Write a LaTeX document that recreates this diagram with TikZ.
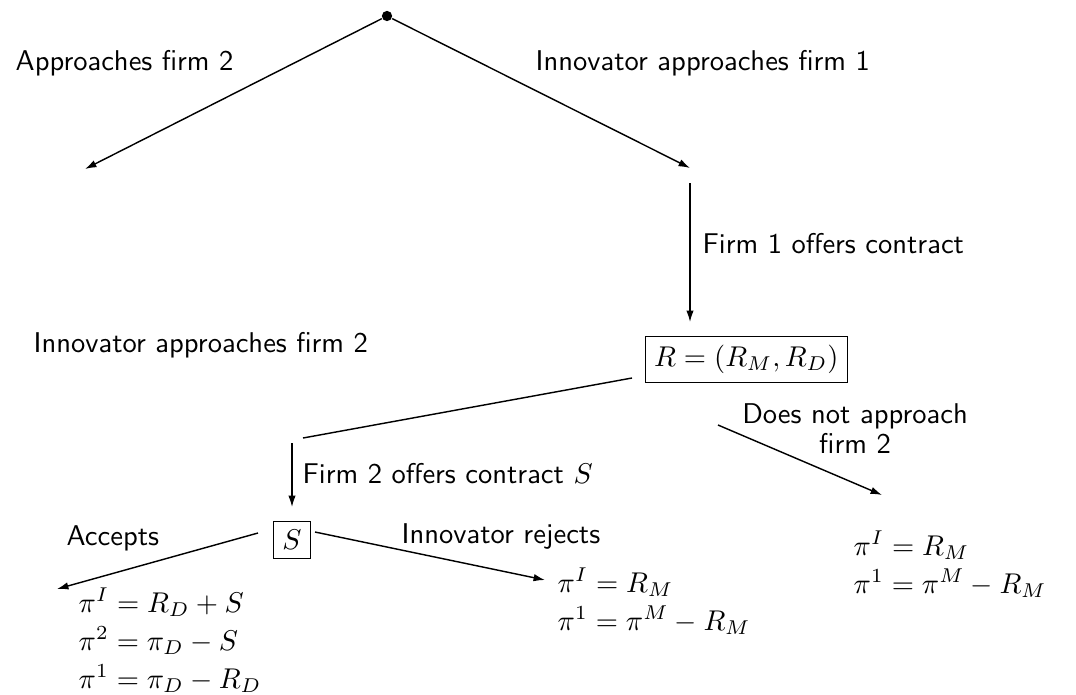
\documentclass[tikz,border=0pt]{standalone}
\usetikzlibrary{arrows.meta}
\begin{document}
\begin{tikzpicture}[x=0.35pt,y=-0.35pt,font=\sffamily,line width=0.5pt,
  arr/.style={-{Latex[length=4pt,width=2.6pt]}},
  lbl/.style={anchor=base west,inner sep=0pt},
  boxnode/.style={draw,line width=0.4pt,inner sep=3pt}]
\useasboundingbox (0,0) rectangle (1076,694);
% root
\node[circle,fill,inner sep=0pt,minimum size=3.6pt] (root) at (387,16) {};
\coordinate (tipL) at (85,169);
\coordinate (tipR) at (690,168);
\draw[arr] (root) -- (tipL);
\draw[arr] (root) -- (tipR);
\node[lbl] (lApp2) at (15,70) {Approaches firm 2};
\node[lbl] (lInn1) at (535,70) {Innovator approaches firm 1};
% firm 1 offers
\coordinate (f1top) at (690,183);
\coordinate (f1tip) at (690,322);
\draw[arr] (f1top) -- (f1tip);
\node[lbl] (lF1) at (702,253) {Firm 1 offers contract};
\node[boxnode,anchor=north west] (R) at (645,336) {$R=(R_M,R_D)$};
% from R
\coordinate (Rl) at (632,378);
\coordinate (b2) at (303,438);
\draw (Rl) -- (b2);
\node[lbl] (lInn2) at (33,352) {Innovator approaches firm 2};
\coordinate (Rr) at (718,425);
\coordinate (tipNA) at (882,495);
\draw[arr] (Rr) -- (tipNA);
\node[align=center,inner sep=0pt] (lNA) at (855,429) {Does not approach\\[-1.5pt]firm 2};
% firm 2 offers
\coordinate (f2top) at (292,443);
\coordinate (f2tip) at (292,507);
\draw[arr] (f2top) -- (f2tip);
\node[lbl] (lF2) at (302,483) {Firm 2 offers contract $S$};
\node[boxnode] (S) at (292,540) {$S$};
% from S
\coordinate (Sl) at (258,533);
\coordinate (Sr) at (315,532);
\coordinate (tipAcc) at (57,589);
\coordinate (tipRej) at (545,580);
\draw[arr] (Sl) -- (tipAcc);
\draw[arr] (Sr) -- (tipRej);
\node[lbl] (lAcc) at (66,545) {Accepts};
\node[lbl] (lRej) at (401,543) {Innovator rejects};
% payoffs
\node[lbl] (pA1) at (78,612) {$\pi^I=R_D+S$};
\node[lbl] (pA2) at (78,650) {$\pi^2=\pi_D-S$};
\node[lbl] (pA3) at (78,688) {$\pi^1=\pi_D-R_D$};
\node[lbl] (pR1) at (557,592) {$\pi^I=R_M$};
\node[lbl] (pR2) at (557,630) {$\pi^1=\pi^M-R_M$};
\node[lbl] (pN1) at (853,555) {$\pi^I=R_M$};
\node[lbl] (pN2) at (853,593) {$\pi^1=\pi^M-R_M$};
\end{tikzpicture}
\end{document}
